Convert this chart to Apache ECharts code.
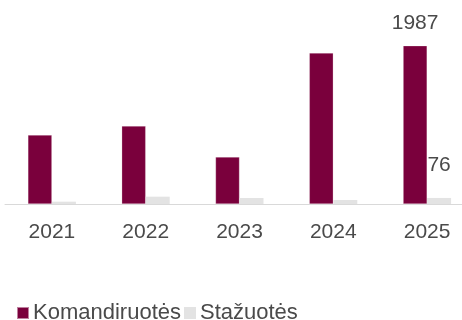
<!DOCTYPE html>
<html>
<head>
<meta charset="utf-8">
<script src="https://cdn.jsdelivr.net/npm/echarts@6/dist/echarts.min.js"></script>
<style>
  html, body { margin: 0; padding: 0; background: #fff; }
  #chart { width: 462px; height: 320px; }
</style>
</head>
<body>
<div id="chart"></div>
<script>
// Yearly counts of business trips and internships
const years = ['2021', '2022', '2023', '2024', '2025'];
const komandiruotes = [866, 979, 590, 1896, 1987];
const stazuotes = [29, 92, 75, 50, 76];
const seriesNames = ['Komandiruotės', 'Stažuotės'];

const maroon = '#7a003c';
const lightGrey = '#e3e3e3';
const textGrey = '#4a4a4a';
const font = 'Liberation Sans, Arial, sans-serif';

// only the last year carries a value label
function withLastLabel(values, distance) {
  return values.map((v, i) => i === values.length - 1
    ? { value: v, label: { show: true, position: 'top', distance: distance } }
    : v);
}

const chart = echarts.init(document.getElementById('chart'), null, { renderer: 'canvas' });
chart.setOption({
  animation: false,
  textStyle: { fontFamily: font },
  grid: {
    left: 5, width: 469, top: 20, height: 184,
    containLabel: false,
    outerBoundsMode: 'none'
  },
  legend: {
    data: seriesNames,
    left: 11,
    top: 297,
    icon: 'rect',
    itemWidth: 12,
    itemHeight: 12,
    itemGap: 3,
    textStyle: { fontSize: 22, color: textGrey, fontFamily: font, padding: [0, 0, 0, -1] }
  },
  xAxis: {
    type: 'category',
    data: years,
    axisLine: { show: true, lineStyle: { color: '#d9d9d9', width: 1 } },
    axisTick: { show: false },
    axisLabel: { fontSize: 21, color: textGrey, margin: 18, fontFamily: font }
  },
  yAxis: {
    type: 'value',
    min: 0,
    max: 2310,
    show: false,
    splitLine: { show: false }
  },
  series: [
    {
      name: seriesNames[0],
      type: 'bar',
      data: withLastLabel(komandiruotes, 12),
      barWidth: 24,
      barGap: '0%',
      itemStyle: { color: maroon, borderColor: 'rgba(255,255,255,0.5)', borderWidth: 0.5 },
      label: { show: false, fontSize: 21, color: textGrey, fontFamily: font }
    },
    {
      name: seriesNames[1],
      type: 'bar',
      data: withLastLabel(stazuotes, 22),
      barWidth: 24,
      itemStyle: { color: lightGrey },
      label: { show: false, fontSize: 21, color: textGrey, fontFamily: font }
    }
  ]
});
</script>
</body>
</html>
